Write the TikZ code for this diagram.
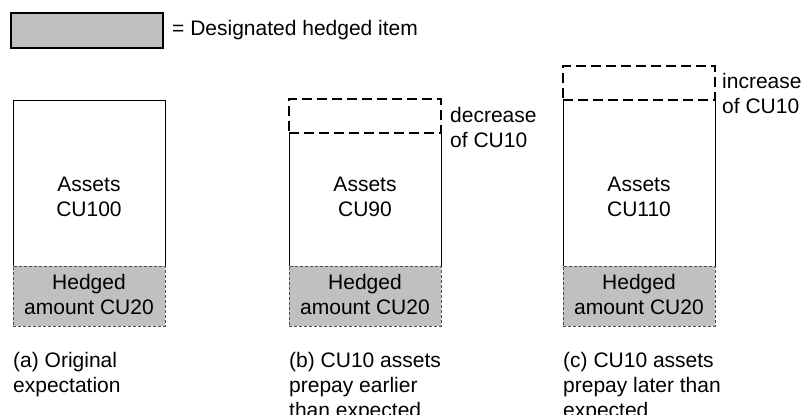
\documentclass[tikz,border=0pt]{standalone}
\usepackage{fontspec}
\setmainfont{Liberation Sans}
\usetikzlibrary{positioning}
\definecolor{hedgegray}{RGB}{192,192,192}
\tikzset{
  block/.style={minimum width=152pt, inner sep=0pt, outer sep=0pt},
  assetbox/.style={block, anchor=north west},
  assetline/.style={line width=0.8pt},
  hedgebox/.style={block, draw=black!70, fill=hedgegray, line width=0.8pt,
    dash pattern=on 3pt off 2pt, minimum height=60pt},
  changebox/.style={block, draw, line width=1.8pt, dash pattern=on 10pt off 5pt,
    minimum height=34pt},
  txt/.style={font=\fontsize{21}{25}\selectfont, align=center, inner sep=0pt},
  caption/.style={txt, align=left, anchor=north west},
}
\begin{document}
\begin{tikzpicture}[x=1pt,y=-1pt]
\useasboundingbox (0,0) rectangle (806,415);
% legend
\node[block, draw, line width=1.5pt, fill=hedgegray, minimum height=35pt,
  anchor=north west] (legendbox) at (11,13) {};
\node[txt, right=9pt of legendbox] (legendtext) {= Designated hedged item};
% (a) original
\node[assetbox, minimum height=166pt] (assetsA) at (13,100) {};
\node[hedgebox, below=0pt of assetsA] (hedgeA) {};
\draw[assetline] (assetsA.south west) |- (assetsA.north east) -- (assetsA.south east);
% (b) earlier
\node[assetbox, minimum height=133pt] (assetsB) at (289,133) {};
\node[hedgebox, below=0pt of assetsB] (hedgeB) {};
\draw[assetline] (assetsB.north west) -- (assetsB.south west)
  (assetsB.north east) -- (assetsB.south east);
\node[changebox, above=0pt of assetsB] (changeB) {};
% (c) later
\node[assetbox, minimum height=166pt] (assetsC) at (563,100) {};
\node[hedgebox, below=0pt of assetsC] (hedgeC) {};
\draw[assetline] (assetsC.north west) -- (assetsC.south west)
  (assetsC.north east) -- (assetsC.south east);
\node[changebox, above=0pt of assetsC] (changeC) {};
% texts
\node[txt] (assetsAtext) at (assetsA.center |- 0,197) {Assets\\CU100};
\node[txt] (assetsBtext) at (assetsB.center |- 0,197) {Assets\\CU90};
\node[txt] (assetsCtext) at (assetsC.center |- 0,197) {Assets\\CU110};
\foreach \n in {A,B,C}
  \node[txt] (hedge\n text) at ([yshift=2pt]hedge\n.center) {Hedged\\amount CU20};
\node[caption] (decreaseB) at ([xshift=9pt,yshift=-8pt]changeB.north east) {decrease\\of CU10};
\node[caption] (increaseC) at ([xshift=7pt,yshift=-7pt]changeC.north east) {increase\\of CU10};
\node[caption] (captionA) at ([yshift=-26pt]hedgeA.south west) {(a) Original\\expectation};
\node[caption] (captionB) at ([yshift=-26pt]hedgeB.south west) {(b) CU10 assets\\prepay earlier\\than expected};
\node[caption] (captionC) at ([yshift=-26pt]hedgeC.south west) {(c) CU10 assets\\prepay later than\\expected};
\end{tikzpicture}
\end{document}
